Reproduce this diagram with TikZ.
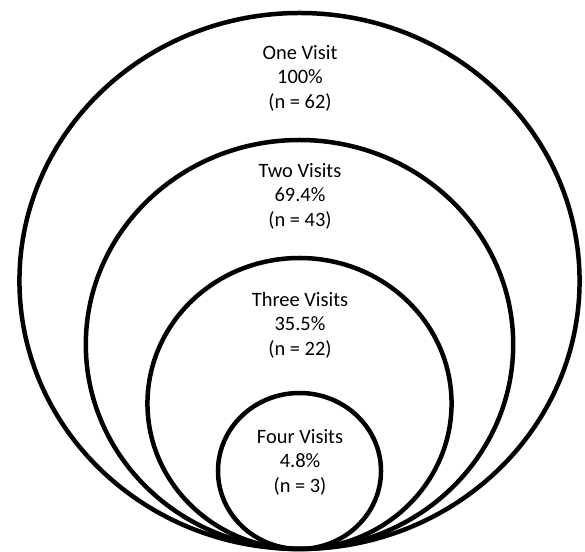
\documentclass[tikz,border=0pt]{standalone}
\usepackage{fontspec}
\setmainfont{Carlito}
\usetikzlibrary{positioning}

\begin{document}
\begin{tikzpicture}[x=1bp,y=1bp]
\def\sx{1.045}
\tikzset{ring/.style={line width=4.5bp},
  lbl/.style={align=center, font=\fontsize{20.5}{24.5}\selectfont}}
\useasboundingbox (0,0) rectangle (585,552);

% common touching point at the bottom
\coordinate (base) at (299.5,3);

\foreach \r in {268,204.5,145.5,78}{
    \draw[ring] ([yshift=\r*1bp]base) ellipse ({\r*\sx*1bp} and {\r*1bp});
}

\node[lbl] (one)   at (300,474) {One Visit\\100\%\\(n = 62)};
\node[lbl] (two)   at (300,356) {Two Visits\\69.4\%\\(n = 43)};
\node[lbl] (three) at (300,227) {Three Visits\\35.5\%\\(n = 22)};
\node[lbl] (four)  at (300,90)  {Four Visits\\4.8\%\\(n = 3)};

\end{tikzpicture}
\end{document}
